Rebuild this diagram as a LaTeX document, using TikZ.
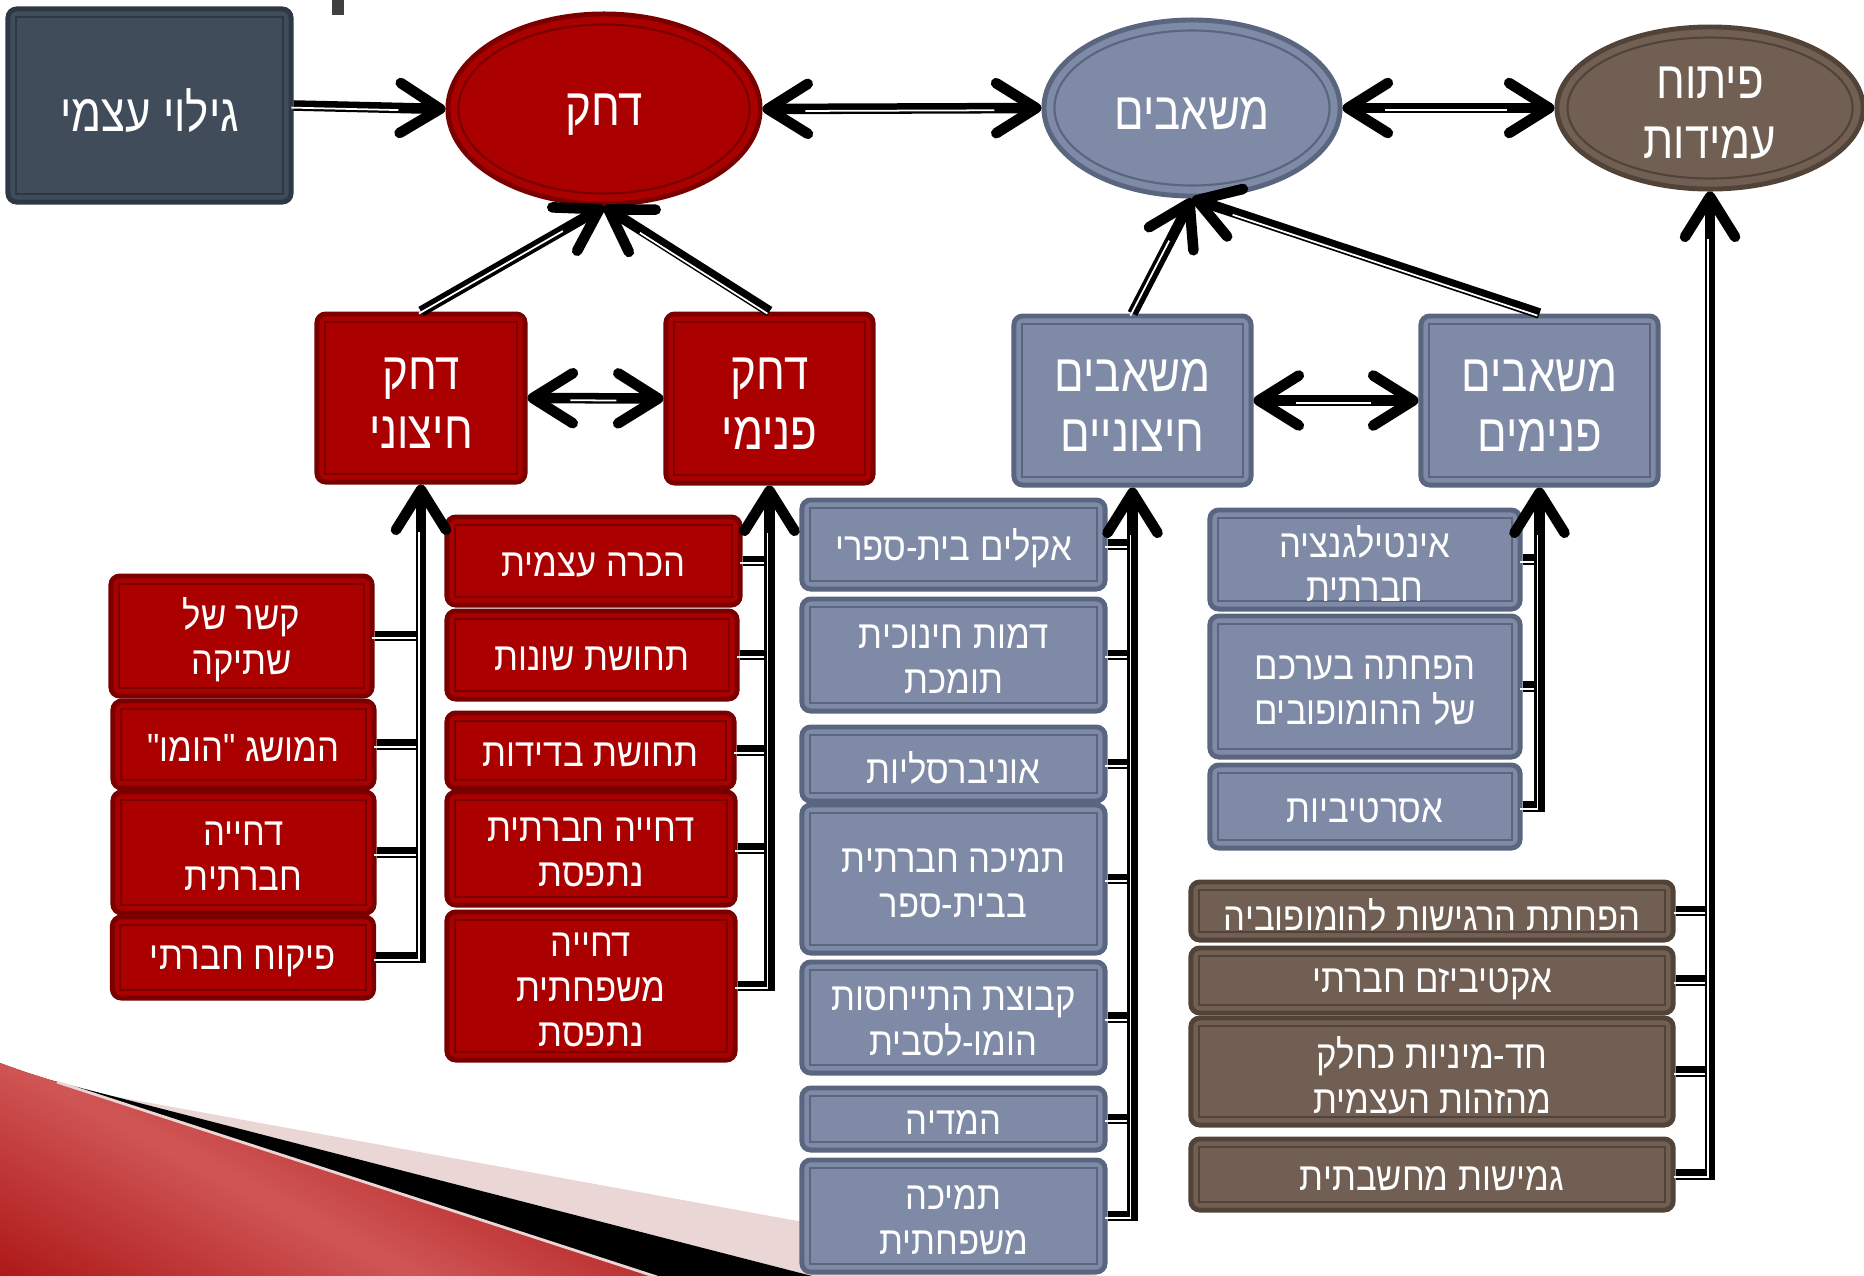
\documentclass[tikz,border=0pt]{standalone}
\usepackage{fontspec}
\usetikzlibrary{arrows.meta,shapes.geometric,calc}
\newfontfamily\hebfont[Script=Hebrew,FakeStretch=0.88]{Liberation Sans}
\newfontfamily\hebbig[Script=Hebrew,FakeStretch=0.83]{Liberation Sans}
\TeXXeTstate=1
% one right-to-left line, set a little lower than the middle
\newcommand{\heb}[1]{\raisebox{-0.1em}[\height][\depth]{\beginR #1\endR}}
\definecolor{dahakred}{HTML}{AA0000}
\definecolor{dahakdark}{HTML}{7A0000}
\definecolor{mashblue}{HTML}{7E8AA6}
\definecolor{mashdark}{HTML}{5A6680}
\definecolor{pituahbrown}{HTML}{715F53}
\definecolor{pituahdark}{HTML}{524339}
\definecolor{galuislate}{HTML}{414C5B}
\definecolor{galuidark}{HTML}{2E3744}
\definecolor{wedgered}{HTML}{A00000}
\definecolor{wedgepink}{HTML}{EBD6D6}
\definecolor{wedgelight}{HTML}{D05656}
\begin{document}
\begin{tikzpicture}[x=0.01cm,y=-0.01cm,
    chev/.tip={Straight Barb[length=0.40cm,width=0.50cm,line width=3pt,round]},
    frame/.style 2 args={rectangle,rounded corners=2.5pt,fill=#1,draw=#2,line width=1.4pt,
      text=white,align=center,inner sep=0pt,
      path picture={\draw[#2,line width=0.6pt,sharp corners]
        ([shift={(0.08cm,-0.08cm)}]path picture bounding box.north west) rectangle
        ([shift={(-0.08cm,0.08cm)}]path picture bounding box.south east);}},
    ring/.style 2 args={ellipse,fill=#1,draw=#2,line width=1.4pt,text=white,align=center,inner sep=0pt,
      path picture={\draw[#2,line width=0.6pt]
        let \p1=(path picture bounding box.north east),\p2=(path picture bounding box.center) in
        (\p2) ellipse [x radius={\x1-\x2-3pt},y radius={\y1-\y2-3pt}];}},
    small/.style={font=\hebfont\fontsize{11.2}{12.7}\selectfont},
    big/.style={font=\hebbig\fontsize{15}{17}\selectfont},
    redbox/.style={frame={dahakred}{dahakdark},small},
    bluebox/.style={frame={mashblue}{mashdark},small},
    brownbox/.style={frame={pituahbrown}{pituahdark},small},
    stripe/.style={draw=white,line width=0.5pt,-,transform canvas={xshift=-0.6pt,yshift=-0.6pt}},
    link/.style={line width=3pt,postaction={stripe,shorten >=#1}},
    link/.default=0pt,
    uplink/.style={link=0.45cm,-{chev}},
    bothlink/.style={line width=3pt,{chev}-{chev},postaction={stripe,shorten >=0.45cm,shorten <=0.45cm}}]
  \useasboundingbox (0,0) rectangle (1864,1275);

  % background corner
  \fill[wedgepink] (57,1082) -- (96,1093) -- (1105,1277) -- (816,1277) -- cycle;
  \fill[black] (50,1080) -- (816,1277) -- (657,1277) -- cycle;
  \begin{scope}
    \clip (0,1063) .. controls (25,1072) .. (57,1082) -- (657,1277) -- (0,1277) -- cycle;
    \fill[wedgered] (0,1000) rectangle (700,1280);
    \shade[transform canvas={rotate around={62:(290,1210)}},left color=wedgered,right color=wedgered,middle color=wedgelight]
      (20,210) rectangle (560,2210);
  \end{scope}
  \draw[wedgepink,line width=0.8pt] (57,1082) -- (657,1277);
  \fill[black!75] (332,0) rectangle (344,15);

  % top row
  \node[frame={galuislate}{galuidark},big,minimum width=2.83cm,minimum height=1.93cm] (galui) at (149.5,105.5) {\heb{גילוי עצמי}};
  \node[ring={dahakred}{dahakdark},big,minimum width=3.12cm,minimum height=1.90cm] (dahak) at (604,109) {\heb{דחק}};
  \node[ring={mashblue}{mashdark},big,minimum width=2.96cm,minimum height=1.76cm] (mashavim) at (1192,108) {\heb{משאבים}};
  \node[ring={pituahbrown}{pituahdark},big,minimum width=3.06cm,minimum height=1.62cm] (pituah) at (1710,108) {\heb{פיתוח}\\\heb{עמידות}};

  % second row
  \node[redbox,big,minimum width=2.08cm,minimum height=1.68cm] (dhitz) at (421,398) {\heb{דחק}\\\heb{חיצוני}};
  \node[redbox,big,minimum width=2.07cm,minimum height=1.69cm] (dpnim) at (769.5,398.5) {\heb{דחק}\\\heb{פנימי}};
  \node[bluebox,big,minimum width=2.37cm,minimum height=1.69cm] (mhitz) at (1132.5,400.5) {\heb{משאבים}\\\heb{חיצוניים}};
  \node[bluebox,big,minimum width=2.37cm,minimum height=1.69cm] (mpnim) at (1539.5,400.5) {\heb{משאבים}\\\heb{פנימים}};

  % external pressure
  \node[redbox,minimum width=2.61cm,minimum height=1.20cm] (kesher) at (241.5,636) {\heb{קשר של}\\\heb{שתיקה}};
  \node[redbox,minimum width=2.61cm,minimum height=0.87cm] (hamusag) at (243.5,744.5) {\heb{המושג "הומו"}};
  \node[redbox,minimum width=2.61cm,minimum height=1.21cm] (dhiya) at (243.5,852.5) {\heb{דחייה}\\\heb{חברתית}};
  \node[redbox,minimum width=2.61cm,minimum height=0.81cm] (pikuah) at (243,957.5) {\heb{פיקוח חברתי}};

  % internal pressure
  \node[redbox,minimum width=2.93cm,minimum height=0.88cm] (hakara) at (593.5,561) {\heb{הכרה עצמית}};
  \node[redbox,minimum width=2.90cm,minimum height=0.88cm] (shonut) at (592,655) {\heb{תחושת שונות}};
  \node[redbox,minimum width=2.87cm,minimum height=0.75cm] (bdidut) at (590.5,750.5) {\heb{תחושת בדידות}};
  \node[redbox,minimum width=2.88cm,minimum height=1.13cm] (dnitf) at (591,848.5) {\heb{דחייה חברתית}\\\heb{נתפסת}};
  \node[redbox,minimum width=2.88cm,minimum height=1.48cm] (dmish) at (591,986) {\heb{דחייה}\\\heb{משפחתית}\\\heb{נתפסת}};

  % external resources
  \node[bluebox,minimum width=3.03cm,minimum height=0.89cm] (aklim) at (953.5,544.5) {\heb{אקלים בית-ספרי}};
  \node[bluebox,minimum width=3.03cm,minimum height=1.12cm] (dmut) at (953.5,655) {\heb{דמות חינוכית}\\\heb{תומכת}};
  \node[bluebox,minimum width=3.03cm,minimum height=0.74cm] (univ) at (953.5,764) {\heb{אוניברסליות}};
  \node[bluebox,minimum width=3.03cm,minimum height=1.48cm] (tmibs) at (953.5,879) {\heb{תמיכה חברתית}\\\heb{בבית-ספר}};
  \node[bluebox,minimum width=3.03cm,minimum height=1.11cm] (kvutza) at (953.5,1017.5) {\heb{קבוצת התייחסות}\\\heb{הומו-לסבית}};
  \node[bluebox,minimum width=3.03cm,minimum height=0.62cm] (media) at (953.5,1119) {\heb{המדיה}};
  \node[bluebox,minimum width=3.03cm,minimum height=1.12cm] (tmish) at (953.5,1216) {\heb{תמיכה}\\\heb{משפחתית}};

  % internal resources
  \node[bluebox,minimum width=3.10cm,minimum height=0.99cm] (intel) at (1365,559.5) {\heb{אינטילגנציה}\\\heb{חברתית}};
  \node[bluebox,minimum width=3.10cm,minimum height=1.41cm] (hafhata) at (1365,686.5) {\heb{הפחתה בערכם}\\\heb{של ההומופובים}};
  \node[bluebox,minimum width=3.10cm,minimum height=0.83cm] (asert) at (1365,806.5) {\heb{אסרטיביות}};

  % resilience
  \node[brownbox,minimum width=4.82cm,minimum height=0.58cm] (regishut) at (1432,911) {\heb{הפחתת הרגישות להומופוביה}};
  \node[brownbox,minimum width=4.82cm,minimum height=0.65cm] (aktiv) at (1432,980.5) {\heb{אקטיביזם חברתי}};
  \node[brownbox,minimum width=4.82cm,minimum height=1.07cm] (hadmin) at (1432,1071.5) {\heb{חד-מיניות כחלק}\\\heb{מהזהות העצמית}};
  \node[brownbox,minimum width=4.82cm,minimum height=0.71cm] (gmishut) at (1432,1174.5) {\heb{גמישות מחשבתית}};

  % arrows between the main parts
  \draw[uplink] (galui.east) -- (dahak.west);
  \draw[bothlink] (dahak.east) -- (mashavim.west);
  \draw[bothlink] (mashavim.east) -- (pituah.west);
  \draw[bothlink] (dhitz.east) -- (dpnim.west);
  \draw[bothlink] (mhitz.east) -- (mpnim.west);
  \draw[uplink] (dhitz.north) -- (dahak.south);
  \draw[uplink] (dpnim.north) -- (dahak.south);
  \draw[uplink] (mhitz.north) -- (mashavim.south);
  \draw[uplink] (mpnim.north) -- (mashavim.south);

  % buses
  \draw[link] (kesher.east) -- (kesher.east -| dhitz.south);
  \draw[link] (hamusag.east) -- (hamusag.east -| dhitz.south);
  \draw[link] (dhiya.east) -- (dhiya.east -| dhitz.south);
  \draw[uplink] (pikuah.east) -| (dhitz.south);

  \draw[link] (hakara.east) -- (hakara.east -| dpnim.south);
  \draw[link] (shonut.east) -- (shonut.east -| dpnim.south);
  \draw[link] (bdidut.east) -- (bdidut.east -| dpnim.south);
  \draw[link] (dnitf.east) -- (dnitf.east -| dpnim.south);
  \draw[uplink] (dmish.east) -| (dpnim.south);

  \draw[link] (aklim.east) -- (aklim.east -| mhitz.south);
  \draw[link] (dmut.east) -- (dmut.east -| mhitz.south);
  \draw[link] (univ.east) -- (univ.east -| mhitz.south);
  \draw[link] (tmibs.east) -- (tmibs.east -| mhitz.south);
  \draw[link] (kvutza.east) -- (kvutza.east -| mhitz.south);
  \draw[link] (media.east) -- (media.east -| mhitz.south);
  \draw[uplink] (tmish.east) -| (mhitz.south);

  \draw[link] (intel.east) -- (intel.east -| mpnim.south);
  \draw[link] (hafhata.east) -- (hafhata.east -| mpnim.south);
  \draw[uplink] (asert.east) -| (mpnim.south);

  \draw[link] (regishut.east) -- (regishut.east -| pituah.south);
  \draw[link] (aktiv.east) -- (aktiv.east -| pituah.south);
  \draw[link] (hadmin.east) -- (hadmin.east -| pituah.south);
  \draw[uplink] (gmishut.east) -| (pituah.south);
\end{tikzpicture}
\end{document}
